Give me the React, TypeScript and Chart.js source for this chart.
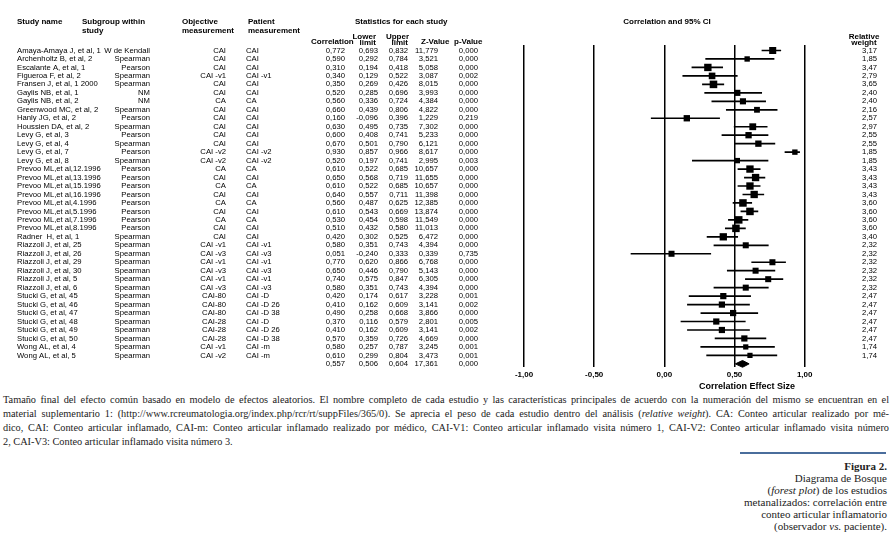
import React, { useEffect, useRef } from 'react';
import { Chart, registerables } from 'chart.js';

Chart.register(...registerables);

const studyNames = [
  'Amaya-Amaya J, et al, 1', 'Archenholtz B, et al, 2', 'Escalante A, et al, 1', 'Figueroa F, et al, 2',
  'Fransen J, et al, 1 2000', 'Gaylis NB, et al, 1', 'Gaylis NB, et al, 2', 'Greenwood MC, et al, 2',
  'Hanly JG, et al, 2', 'Houssien DA, et al, 2', 'Levy G, et al, 3', 'Levy G, et al, 4',
  'Levy G, et al, 7', 'Levy G, et al, 8', 'Prevoo ML,et al,12.1996', 'Prevoo ML,et al,13.1996',
  'Prevoo ML,et al,15.1996', 'Prevoo ML,et al,16.1996', 'Prevoo ML,et al,4.1996', 'Prevoo ML,et al,5.1996',
  'Prevoo ML,et al,7.1996', 'Prevoo ML,et al,8.1996', 'Radner  H, et al, 1', 'Riazzoli J, et al, 25',
  'Riazzoli J, et al, 26', 'Riazzoli J, et al, 29', 'Riazzoli J, et al, 30', 'Riazzoli J, et al, 5',
  'Riazzoli J, et al, 6', 'Stucki G, et al, 45', 'Stucki G, et al, 46', 'Stucki G, et al, 47',
  'Stucki G, et al, 48', 'Stucki G, et al, 49', 'Stucki G, et al, 50', 'Wong AL, et al, 4',
  'Wong AL, et al, 5',
];

const subgroups = [
  'W de Kendall', 'Spearman', 'Pearson', 'Spearman', 'Spearman', 'NM', 'NM', 'Spearman',
  'Pearson', 'Spearman', 'Pearson', 'Spearman', 'Pearson', 'Spearman', 'Pearson', 'Pearson',
  'Pearson', 'Pearson', 'Pearson', 'Pearson', 'Pearson', 'Pearson', 'Spearman', 'Spearman',
  'Spearman', 'Spearman', 'Spearman', 'Spearman', 'Spearman', 'Spearman', 'Spearman', 'Spearman',
  'Spearman', 'Spearman', 'Spearman', 'Spearman', 'Spearman',
];

const objectiveMeasures = [
  'CAI', 'CAI', 'CAI', 'CAI -v1', 'CAI', 'CAI', 'CA', 'CAI',
  'CAI', 'CAI', 'CAI', 'CAI', 'CAI -v2', 'CAI -v2', 'CA', 'CAI',
  'CA', 'CAI', 'CA', 'CAI', 'CA', 'CAI', 'CAI', 'CAI -v1',
  'CAI -v3', 'CAI -v1', 'CAI -v3', 'CAI -v1', 'CAI -v3', 'CAI-80', 'CAI-80', 'CAI-80',
  'CAI-28', 'CAI-28', 'CAI-28', 'CAI -v1', 'CAI -v2',
];

const patientMeasures = [
  'CAI', 'CAI', 'CAI', 'CAI -v1', 'CAI', 'CAI', 'CA', 'CAI',
  'CAI', 'CAI', 'CAI', 'CAI', 'CAI -v2', 'CAI -v2', 'CA', 'CAI',
  'CA', 'CAI', 'CA', 'CAI', 'CA', 'CAI', 'CAI', 'CAI -v1',
  'CAI -v3', 'CAI -v1', 'CAI -v3', 'CAI -v1', 'CAI -v3', 'CAI -D', 'CAI -D 26', 'CAI -D 38',
  'CAI -D', 'CAI -D 26', 'CAI -D 38', 'CAI -m', 'CAI -m',
];

const correlations = [
  0.772, 0.59, 0.31, 0.34, 0.35, 0.52, 0.56, 0.66, 0.16, 0.63, 0.6, 0.67, 0.93, 0.52,
  0.61, 0.65, 0.61, 0.64, 0.56, 0.61, 0.53, 0.51, 0.42, 0.58, 0.051, 0.77, 0.65, 0.74,
  0.58, 0.42, 0.41, 0.49, 0.37, 0.41, 0.57, 0.58, 0.61,
];

const lowerLimits = [
  0.693, 0.292, 0.194, 0.129, 0.269, 0.285, 0.336, 0.439, -0.096, 0.495, 0.408, 0.501, 0.857, 0.197,
  0.522, 0.568, 0.522, 0.557, 0.487, 0.543, 0.454, 0.432, 0.302, 0.351, -0.24, 0.62, 0.446, 0.575,
  0.351, 0.174, 0.162, 0.258, 0.116, 0.162, 0.359, 0.257, 0.299,
];

const upperLimits = [
  0.832, 0.784, 0.418, 0.522, 0.426, 0.696, 0.724, 0.806, 0.396, 0.735, 0.741, 0.79, 0.966, 0.741,
  0.685, 0.719, 0.685, 0.711, 0.625, 0.669, 0.598, 0.58, 0.525, 0.743, 0.333, 0.866, 0.79, 0.847,
  0.743, 0.617, 0.609, 0.668, 0.579, 0.609, 0.726, 0.787, 0.804,
];

const zValues = [
  11.779, 3.521, 5.058, 3.087, 8.015, 3.993, 4.384, 4.822, 1.229, 7.302, 5.233, 6.121, 8.617, 2.995,
  10.657, 11.655, 10.657, 11.398, 12.385, 13.874, 11.549, 11.013, 6.472, 4.394, 0.339, 6.768, 5.143, 6.305,
  4.394, 3.228, 3.141, 3.866, 2.801, 3.141, 4.669, 3.245, 3.473,
];

const pValues = [
  0.0, 0.0, 0.0, 0.002, 0.0, 0.0, 0.0, 0.0, 0.219, 0.0, 0.0, 0.0, 0.0, 0.003,
  0.0, 0.0, 0.0, 0.0, 0.0, 0.0, 0.0, 0.0, 0.0, 0.0, 0.735, 0.0, 0.0, 0.0,
  0.0, 0.001, 0.002, 0.0, 0.005, 0.002, 0.0, 0.001, 0.001,
];

const relativeWeights = [
  3.17, 1.85, 3.47, 2.79, 3.65, 2.4, 2.4, 2.16, 2.57, 2.97, 2.55, 2.55, 1.85, 1.85,
  3.43, 3.43, 3.43, 3.43, 3.6, 3.6, 3.6, 3.6, 3.4, 2.32, 2.32, 2.32, 2.32, 2.32,
  2.32, 2.47, 2.47, 2.47, 2.47, 2.47, 2.47, 1.74, 1.74,
];

const summaryCorrelation = 0.557;
const summaryLower = 0.506;
const summaryUpper = 0.604;
const summaryZ = 17.361;
const summaryP = 0.0;

const xTickValues = [-1, -0.5, 0, 0.5, 1];

const SANS = '"Liberation Sans", Arial, sans-serif';
const SERIF = '"Liberation Serif", "Times New Roman", serif';

const fmt = (v: number, d: number) => v.toFixed(d).replace('.', ',');

const tablePlugin = {
  id: 'forestTable',
  afterDraw(chart: any) {
    const ctx = chart.ctx as CanvasRenderingContext2D;
    const ys = chart.scales.y;
    ctx.save();
    ctx.fillStyle = '#000';
    ctx.textBaseline = 'middle';

    const txt = (s: string, x: number, y: number, align: CanvasTextAlign) => {
      ctx.textAlign = align;
      ctx.fillText(s, x, y);
    };

    // headers
    ctx.font = `bold 8px ${SANS}`;
    txt('Study name', 17, 22, 'left');
    txt('Subgroup within', 82, 22, 'left');
    txt('study', 82, 30.5, 'left');
    txt('Objective', 182, 22, 'left');
    txt('measurement', 182, 30.5, 'left');
    txt('Patient', 248, 22, 'left');
    txt('measurement', 248, 30.5, 'left');
    txt('Statistics for each study', 355, 22, 'left');
    txt('Correlation', 311, 41.5, 'left');
    txt('Lower', 376, 37, 'right');
    txt('limit', 376, 43, 'right');
    txt('Upper', 409, 37, 'right');
    txt('limit', 408, 43, 'right');
    txt('Z-Value', 421, 41.5, 'left');
    txt('p-Value', 454, 41.5, 'left');
    txt('Correlation and 95% CI', 667, 22, 'center');
    txt('Relative', 864, 36.5, 'center');
    txt('weight', 864, 43, 'center');

    // rows
    ctx.font = `7.7px ${SANS}`;
    studyNames.forEach((name, i) => {
      const y = ys.getPixelForValue(i);
      txt(name, 17, y, 'left');
      txt(subgroups[i], 150, y, 'right');
      txt(objectiveMeasures[i], 226, y, 'right');
      txt(patientMeasures[i], 246, y, 'left');
      txt(fmt(correlations[i], 3), 345, y, 'right');
      txt(fmt(lowerLimits[i], 3), 378, y, 'right');
      txt(fmt(upperLimits[i], 3), 408, y, 'right');
      txt(fmt(zValues[i], 3), 438, y, 'right');
      txt(fmt(pValues[i], 3), 478, y, 'right');
      txt(fmt(relativeWeights[i], 2), 877, y, 'right');
    });

    const sy = ys.getPixelForValue(studyNames.length);
    txt(fmt(summaryCorrelation, 3), 345, sy, 'right');
    txt(fmt(summaryLower, 3), 378, sy, 'right');
    txt(fmt(summaryUpper, 3), 408, sy, 'right');
    txt(fmt(summaryZ, 3), 438, sy, 'right');
    txt(fmt(summaryP, 3), 478, sy, 'right');

    ctx.font = `bold 9px ${SANS}`;
    txt('Correlation Effect Size', 747, 387, 'center');
    ctx.restore();
  },
};

export default function App() {
  const canvasRef = useRef<HTMLCanvasElement | null>(null);

  useEffect(() => {
    if (!canvasRef.current) return;
    const n = studyNames.length;
    const ciData: any[] = [];
    lowerLimits.forEach((l, i) => {
      ciData.push({ x: l, y: i }, { x: upperLimits[i], y: i }, { x: null, y: null });
    });
    const squareData = correlations.map((c, i) => ({ x: c, y: i }));
    const dh = 0.4;
    const diamondData = [
      { x: summaryLower, y: n },
      { x: summaryCorrelation, y: n - dh },
      { x: summaryUpper, y: n },
      { x: summaryCorrelation, y: n + dh },
      { x: summaryLower, y: n },
    ];

    const chart = new Chart(canvasRef.current, {
      type: 'scatter',
      data: {
        datasets: [
          {
            type: 'scatter',
            data: squareData,
            pointStyle: 'rect',
            pointRadius: (c: any) => 2.8 * Math.sqrt(relativeWeights[c.dataIndex] ?? 2),
            backgroundColor: '#000',
            borderWidth: 0,
            clip: false,
          } as any,
          {
            type: 'line',
            data: ciData,
            borderColor: '#000',
            borderWidth: 1.7,
            pointRadius: 0,
            spanGaps: false,
            fill: false,
            clip: false,
          } as any,
          {
            type: 'line',
            data: diamondData,
            borderColor: '#000',
            backgroundColor: '#000',
            borderWidth: 1,
            pointRadius: 0,
            fill: 'shape',
            clip: false,
          } as any,
        ],
      },
      options: {
        responsive: false,
        animation: false,
        events: [],
        layout: { padding: { left: 524, right: 896 - 804.7, top: 45, bottom: 392 - 367 - 20 } },
        plugins: { legend: { display: false }, tooltip: { enabled: false }, title: { display: false } },
        scales: {
          x: {
            type: 'linear',
            min: -1,
            max: 1,
            afterFit: (s: any) => { s.height = 20; },
            afterBuildTicks: (s: any) => { s.ticks = xTickValues.map((v) => ({ value: v })); },
            grid: { color: '#000', lineWidth: 1.5, drawTicks: false },
            border: { display: false },
            ticks: {
              padding: 3,
              color: '#000',
              autoSkip: false,
              maxRotation: 0,
              font: { family: SANS, size: 8, weight: 'bold' },
              callback: (v: any) => fmt(Number(v), 2),
            },
          },
          y: { type: 'linear', reverse: true, min: -0.65, max: 37.37, display: false },
        },
      } as any,
      plugins: [tablePlugin],
    });
    return () => chart.destroy();
  }, []);

  const lineStyle: React.CSSProperties = {
    whiteSpace: 'nowrap',
    textAlign: 'justify',
    textAlignLast: 'justify' as any,
    height: 14,
  };

  return (
    <div style={{ position: 'absolute', left: 0, top: 0, width: 896, height: 540, background: '#fff', overflow: 'hidden' }}>
      <canvas ref={canvasRef} width={896} height={392} style={{ display: 'block', width: 896, height: 392 }} />
      <div style={{ position: 'absolute', left: 3, top: 393, width: 886, fontFamily: SERIF, fontSize: 10.3, lineHeight: '14px', color: '#222' }}>
        <div style={lineStyle}>Tamaño final del efecto común basado en modelo de efectos aleatorios. El nombre completo de cada estudio y las características principales de acuerdo con la numeración del mismo se encuentran en el</div>
        <div style={lineStyle}>material suplementario 1: (http://www.rcreumatologia.org/index.php/rcr/rt/suppFiles/365/0). Se aprecia el peso de cada estudio dentro del análisis (<i>relative weight</i>). CA: Conteo articular realizado por mé-</div>
        <div style={lineStyle}>dico, CAI: Conteo articular inflamado, CAI-m: Conteo articular inflamado realizado por médico, CAI-V1: Conteo articular inflamado visita número 1, CAI-V2: Conteo articular inflamado visita número</div>
        <div style={{ whiteSpace: 'nowrap', height: 14 }}>2, CAI-V3: Conteo articular inflamado visita número 3.</div>
      </div>
      <div style={{ position: 'absolute', left: 740, top: 452, width: 146, height: 1.5, background: '#4a6d9c' }} />
      <div style={{ position: 'absolute', right: 9, top: 460, textAlign: 'right', fontFamily: SERIF, fontSize: 11, lineHeight: '12px', color: '#222', whiteSpace: 'nowrap' }}>
        <div style={{ fontWeight: 'bold' }}>Figura 2.</div>
        <div>Diagrama de Bosque</div>
        <div>(<i>forest plot</i>) de los estudios</div>
        <div>metanalizados: correlación entre</div>
        <div>conteo articular inflamatorio</div>
        <div>(observador <i>vs.</i> paciente).</div>
      </div>
    </div>
  );
}
